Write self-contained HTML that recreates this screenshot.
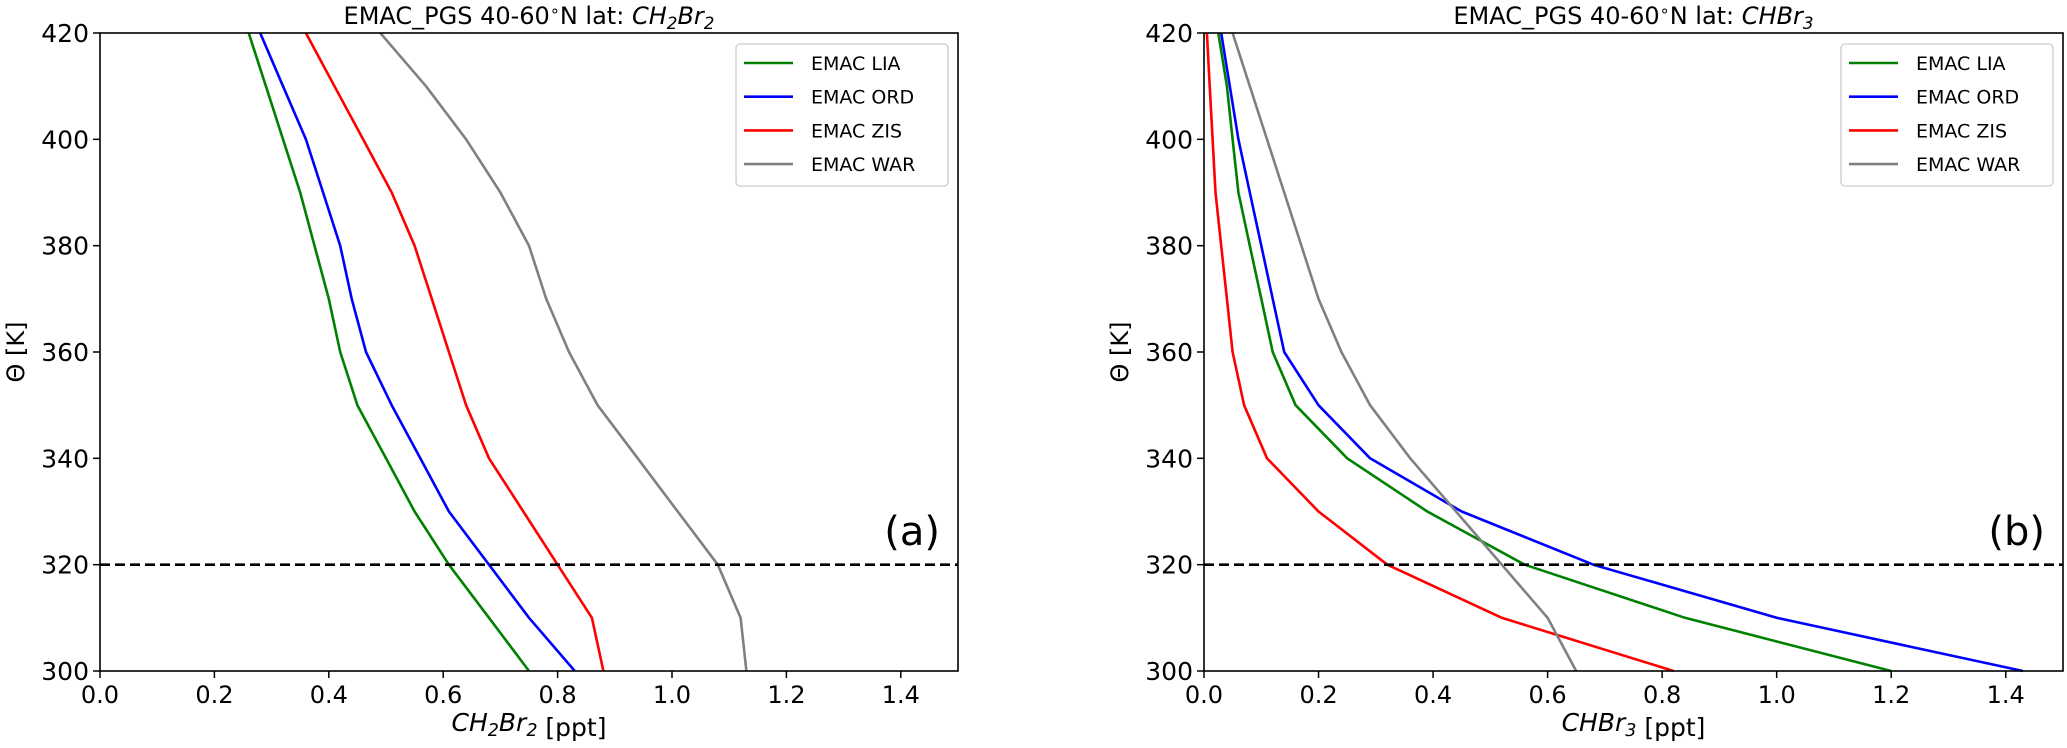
<!DOCTYPE html>
<html><head><meta charset="utf-8"><style>
html,body{margin:0;padding:0;background:#fff}
svg{display:block;font-family:"DejaVu Sans","Liberation Sans",sans-serif}
</style></head><body>
<svg id="fig" width="2067" height="748" viewBox="0 0 2067 748"></svg>
<script>
const levels=[300,310,320,330,340,350,360,370,380,390,400,410,420];
const seriesNames=["EMAC LIA","EMAC ORD","EMAC ZIS","EMAC WAR"];
const seriesColors=["#008000","#0000ff","#ff0000","#808080"];
const xTicks=[0,0.2,0.4,0.6,0.8,1.0,1.2,1.4];
const yTicks=[300,320,340,360,380,400,420];
const aLIA=[0.75,0.68,0.61,0.55,0.50,0.45,0.42,0.40,0.375,0.35,0.32,0.29,0.26];
const aORD=[0.83,0.75,0.68,0.61,0.56,0.51,0.465,0.44,0.42,0.39,0.36,0.32,0.28];
const aZIS=[0.88,0.86,0.80,0.74,0.68,0.64,0.61,0.58,0.55,0.51,0.46,0.41,0.36];
const aWAR=[1.13,1.12,1.08,1.01,0.94,0.87,0.82,0.78,0.75,0.70,0.64,0.57,0.49];
const bLIA=[1.20,0.84,0.56,0.39,0.25,0.16,0.12,0.10,0.08,0.06,0.05,0.04,0.025];
const bORD=[1.43,1.00,0.68,0.45,0.29,0.20,0.14,0.12,0.10,0.08,0.06,0.045,0.03];
const bZIS=[0.82,0.52,0.32,0.20,0.11,0.07,0.05,0.04,0.03,0.02,0.015,0.01,0.005];
const bWAR=[0.65,0.60,0.52,0.44,0.36,0.29,0.24,0.20,0.17,0.14,0.11,0.08,0.05];
const tropo=320;

const NS="http://www.w3.org/2000/svg";
const svg=document.getElementById('fig');
function el(tag,attrs,parent,text){const e=document.createElementNS(NS,tag);for(const k in attrs)e.setAttribute(k,attrs[k]);if(text!==undefined)e.textContent=text;(parent||svg).appendChild(e);return e;}

function panel(L,R,id,species,data,label){
  const T=33,B=671;
  const xs=v=>L+(v/1.5)*(R-L);
  const ys=v=>B-(v-300)/120*(B-T);
  const g=el('g',{});
  
  
  xTicks.forEach(t=>{
    const l=el('line',{x1:xs(t),x2:xs(t),y1:B,y2:B+7,stroke:'#000','stroke-width':1.5},g);
    
    const tx=el('text',{x:xs(t),y:B+32,'font-size':24,'text-anchor':'middle'},g,t.toFixed(1));
    
  });
  yTicks.forEach(t=>{
    const l=el('line',{x1:L-7,x2:L,y1:ys(t),y2:ys(t),stroke:'#000','stroke-width':1.5},g);
    
    const tx=el('text',{x:L-11,y:ys(t)+9,'font-size':25,'text-anchor':'end'},g,String(t));
    
  });
  data.forEach((arr,i)=>{
    const pts=arr.map((v,j)=>xs(v).toFixed(1)+','+ys(levels[j]).toFixed(1)).join(' ');
    const p=el('polyline',{points:pts,fill:'none',stroke:seriesColors[i],'stroke-width':2.6,'stroke-linejoin':'round'},g);
    
    
  });
  const d=el('line',{x1:L,x2:R,y1:ys(tropo),y2:ys(tropo),stroke:'#000','stroke-width':2.6,'stroke-dasharray':'10,5'},g);
  
  const fr=el('rect',{x:L,y:T,width:R-L,height:B-T,fill:'none',stroke:'#000','stroke-width':1.6},g);
  
  const lx=R-222,ly=44;
  const lg=el('g',{},g);
  
  el('rect',{x:lx,y:ly,width:212,height:142,rx:4,fill:'#fff',stroke:'#ccc','stroke-width':1.3},lg);
  seriesNames.forEach((n,i)=>{
    const y=63+i*33.7;
    const e=el('g',{},lg);
    
    el('line',{x1:lx+8,x2:lx+57,y1:y,y2:y,stroke:seriesColors[i],'stroke-width':2.6},e);
    el('text',{x:lx+75,y:y+7,'font-size':19},e,n);
  });
  const pl=el('text',{x:R-18,y:545,'font-size':40,'text-anchor':'end'},g,label);
  
  const t=el('text',{x:(L+R)/2,y:24,'font-size':24,'text-anchor':'middle'},g);
  
  el('tspan',{},t,'EMAC_PGS 40-60');
  el('tspan',{dy:-8,'font-size':16},t,'∘');
  el('tspan',{dy:8},t,'N lat: ');
  species(t);
  const xl=el('text',{x:(L+R)/2,y:731,'font-size':25,'text-anchor':'middle'},g);
  
  species(xl);el('tspan',{},xl,' [ppt]');
  const yl=el('text',{x:0,y:0,'font-size':24,'text-anchor':'middle',transform:`translate(${L-76},352) rotate(-90)`},g,'Θ [K]');
  
}
function ch2br2(t){el('tspan',{'font-style':'italic'},t,'CH');el('tspan',{'font-style':'italic','font-size':'0.7em',dy:5},t,'2');el('tspan',{'font-style':'italic',dy:-5},t,'Br');el('tspan',{'font-style':'italic','font-size':'0.7em',dy:5},t,'2');el('tspan',{dy:-5},t,'');}
function chbr3(t){el('tspan',{'font-style':'italic'},t,'CHBr');el('tspan',{'font-style':'italic','font-size':'0.7em',dy:5},t,'3');el('tspan',{dy:-5},t,'');}
panel(100,958,'a',ch2br2,[aLIA,aORD,aZIS,aWAR],'(a)');
panel(1204,2063,'b',chbr3,[bLIA,bORD,bZIS,bWAR],'(b)');
</script>
</body></html>
